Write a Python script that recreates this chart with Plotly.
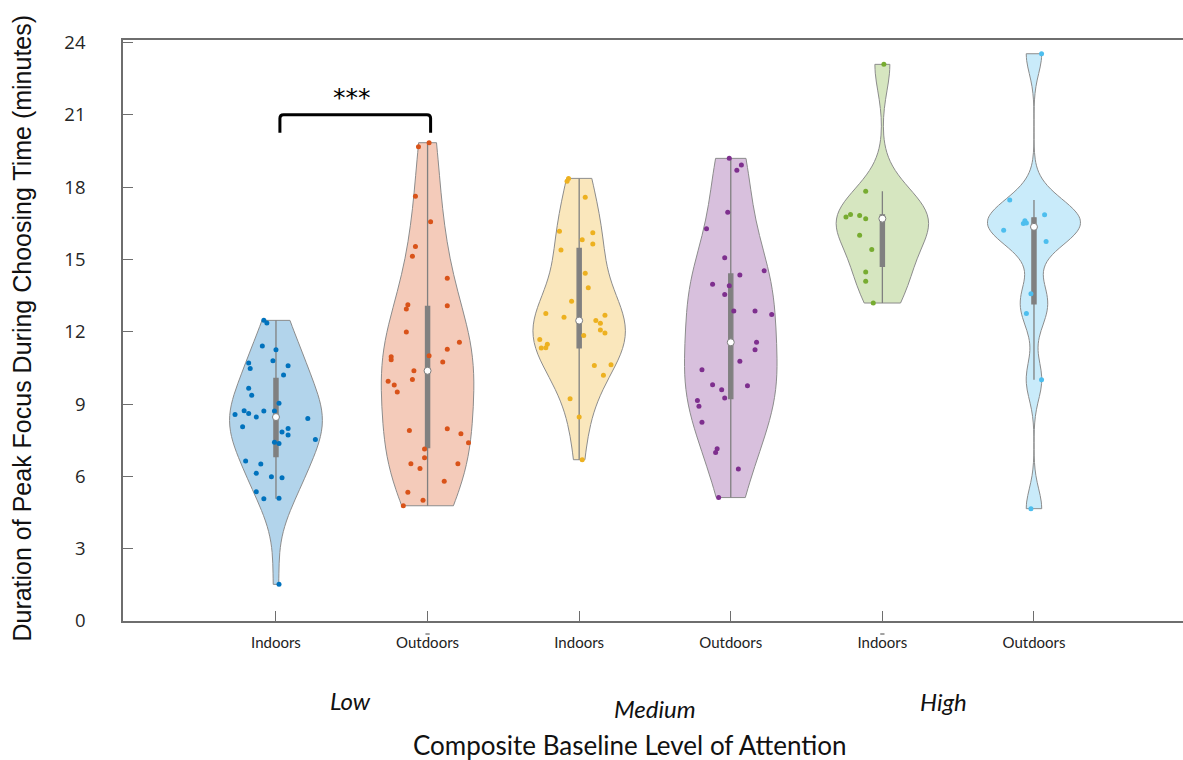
import numpy as np
import plotly.graph_objects as go

# ---- data: peak-focus duration (minutes) per attention level and setting ----
tick_labels = ["Indoors", "Outdoors", "Indoors", "Outdoors", "Indoors", "Outdoors"]
group_labels = ["Low", "Medium", "High"]

low_indoors = [12.47, 12.36, 11.41, 11.25, 10.80, 10.70, 10.47, 10.59, 10.20, 9.65,
               9.36, 9.03, 8.72, 8.61, 8.57, 8.71, 8.71, 8.46, 8.40, 8.06,
               7.99, 7.84, 7.72, 7.53, 7.36, 7.41, 6.64, 6.51, 6.13, 5.98,
               5.94, 5.36, 5.07, 5.09, 1.52]
low_indoors_jitter = [-0.08, -0.06, -0.09, 0.00, -0.02, -0.18, -0.17, 0.08, 0.05, -0.18,
                      -0.16, 0.02, -0.21, -0.18, -0.27, -0.08, -0.01, -0.13, 0.21, -0.22,
                      0.08, 0.04, 0.08, 0.26, 0.02, -0.01, -0.20, -0.10, -0.13, -0.03,
                      0.04, -0.13, -0.08, 0.02, 0.02]

low_outdoors = [19.84, 19.67, 17.62, 16.56, 15.53, 15.13, 14.22, 13.12, 12.94, 13.08,
                11.99, 11.56, 11.27, 10.96, 10.84, 11.00, 10.74, 10.38, 10.02, 9.95,
                9.79, 9.50, 7.90, 7.97, 7.77, 7.39, 7.13, 6.77, 6.52, 6.33,
                6.52, 5.80, 5.34, 5.01, 4.78]
low_outdoors_jitter = [0.01, -0.06, -0.08, 0.02, -0.08, -0.10, 0.13, -0.13, -0.14, 0.13,
                       -0.14, 0.21, 0.13, -0.24, -0.24, 0.01, 0.10, -0.09, -0.10, -0.26,
                       -0.22, -0.20, -0.12, 0.13, 0.22, 0.27, -0.02, -0.02, -0.11, -0.05,
                       0.20, 0.11, -0.13, -0.03, -0.16]

medium_indoors = [18.36, 18.24, 17.58, 16.17, 16.10, 15.81, 15.64, 15.39, 14.42, 13.82,
                  13.26, 12.76, 12.60, 12.68, 12.46, 12.35, 12.07, 11.95, 11.84, 11.68,
                  11.48, 11.32, 11.33, 10.60, 10.63, 10.19, 9.22, 8.46, 6.69]
medium_indoors_jitter = [-0.07, -0.08, 0.04, -0.13, 0.09, 0.02, 0.09, -0.12, 0.04, 0.06,
                         -0.05, -0.22, -0.10, 0.17, 0.11, 0.14, 0.14, 0.17, 0.03, -0.26,
                         -0.21, -0.25, -0.22, 0.10, 0.21, 0.16, -0.06, 0.00, 0.02]

medium_outdoors = [19.19, 18.92, 18.70, 16.96, 16.27, 15.07, 14.53, 14.35, 13.97, 13.91,
                   13.54, 12.86, 12.86, 12.71, 11.56, 11.25, 10.77, 10.42, 9.80, 9.76,
                   9.59, 9.25, 9.15, 8.91, 8.24, 7.14, 6.99, 6.31, 5.12]
medium_outdoors_jitter = [-0.01, 0.07, 0.04, -0.02, -0.16, -0.04, 0.22, 0.06, -0.12, -0.01,
                          -0.04, 0.02, 0.16, 0.27, 0.17, 0.16, 0.06, -0.19, -0.12, 0.11,
                          -0.06, -0.04, -0.22, -0.21, -0.19, -0.09, -0.10, 0.05, -0.08]

high_indoors = [23.09, 17.83, 16.86, 16.76, 16.82, 16.69, 16.00, 15.41, 14.48, 14.09, 13.19]
high_indoors_jitter = [0.01, -0.11, -0.21, -0.24, -0.15, -0.11, -0.15, -0.07, -0.11, -0.11, -0.06]

high_outdoors = [23.53, 17.46, 16.85, 16.60, 16.49, 16.51, 16.21, 15.74, 13.57, 12.75, 10.01, 4.66]
high_outdoors_jitter = [0.05, -0.16, 0.07, -0.06, -0.07, -0.05, -0.20, 0.08, -0.02, -0.05, 0.05, -0.02]

samples = [low_indoors, low_outdoors, medium_indoors, medium_outdoors, high_indoors, high_outdoors]
jitters = [low_indoors_jitter, low_outdoors_jitter, medium_indoors_jitter,
           medium_outdoors_jitter, high_indoors_jitter, high_outdoors_jitter]

# ---- styling ----
palette = [(0, 114, 189), (217, 83, 25), (237, 177, 32),
           (126, 47, 142), (119, 172, 48), (77, 190, 238)]
EDGE = "#8c8c8c"
BOX = "#808080"
AXIS = "#6e6e6e"
VIOLIN_WIDTH = 0.61


def kde_bandwidth(values):
    """Normal-reference bandwidth built on the median absolute deviation."""
    v = np.asarray(values, dtype=float)
    sig = np.median(np.abs(v - np.median(v))) / 0.6745
    return sig * (4.0 / (3.0 * len(v))) ** 0.2


fig = go.Figure()

for i, (vals, jit, rgb) in enumerate(zip(samples, jitters, palette)):
    pos = i + 1
    r, g, b = rgb
    fig.add_trace(go.Violin(
        x0=pos, y=vals, width=VIOLIN_WIDTH, spanmode="hard",
        bandwidth=kde_bandwidth(vals), scalemode="width",
        fillcolor=f"rgba({r},{g},{b},0.3)", line=dict(color=EDGE, width=1),
        points=False,
        box=dict(visible=True, width=0.045, fillcolor=BOX,
                 line=dict(color=BOX, width=1.3)),
        meanline=dict(visible=False), showlegend=False, hoverinfo="skip",
    ))
    fig.add_trace(go.Scatter(
        x=[pos + d for d in jit], y=vals, mode="markers",
        marker=dict(size=5, color=f"rgb({r},{g},{b})", line=dict(width=0)),
        showlegend=False, hoverinfo="y",
    ))
    fig.add_trace(go.Scatter(
        x=[pos], y=[float(np.median(vals))], mode="markers",
        marker=dict(size=7, color="white", line=dict(color=BOX, width=1)),
        showlegend=False, hoverinfo="y",
    ))

# significance bracket between the two low-attention groups
fig.add_shape(type="path",
              path="M 1.026,20.25 L 1.026,20.85 Q 1.026,21.0 1.05,21.0 "
                   "L 1.996,21.0 Q 2.02,21.0 2.02,20.85 L 2.02,20.25",
              line=dict(color="black", width=3), xref="x", yref="y")
fig.add_annotation(x=1.5, y=21.0, yshift=17, text="***", showarrow=False,
                   xanchor="center", yanchor="middle",
                   font=dict(family="DejaVu Sans", size=25, color="black"),
                   xref="x", yref="y")

# small dashes under two of the category ticks
for p in (2, 5):
    fig.add_shape(type="line", x0=p - 0.014, x1=p + 0.014, y0=-0.0224, y1=-0.0224,
                  xref="x", yref="paper", line=dict(color="#444", width=1))

# attention-level group labels
for lab, xp, yp in zip(group_labels, [0.215, 0.502, 0.774], [-0.136, -0.150, -0.138]):
    fig.add_annotation(x=xp, y=yp, xref="paper", yref="paper", text=f"<i>{lab}</i>",
                       xanchor="center", yanchor="middle", showarrow=False,
                       font=dict(family="Lato", size=24, color="#111"))

fig.add_annotation(x=0.478, y=-0.213, xref="paper", yref="paper",
                   text="Composite Baseline Level of Attention", showarrow=False,
                   xanchor="center", yanchor="middle",
                   font=dict(family="Lato", size=26, color="#111"))

fig.add_annotation(x=-0.0953, y=0.505, xref="paper", yref="paper", textangle=-90,
                   text="Duration of Peak Focus During Choosing Time (minutes)",
                   showarrow=False, xanchor="center", yanchor="middle",
                   font=dict(family="Liberation Sans", size=25, color="#111"))

fig.update_layout(
    width=1183, height=760,
    margin=dict(l=123, r=0, t=40, b=139),
    plot_bgcolor="white", paper_bgcolor="white",
    xaxis=dict(range=[-0.009, 6.983], tickmode="array", tickvals=[1, 2, 3, 4, 5, 6],
               ticktext=tick_labels, ticks="inside", ticklen=10, tickcolor=AXIS,
               tickwidth=1.3, showline=True, linecolor=AXIS, linewidth=1.6, mirror=True,
               showgrid=False, zeroline=False, ticklabelstandoff=7,
               tickfont=dict(family="Lato", size=15, color="#222")),
    yaxis=dict(range=[0, 24.1], tickmode="array", tickvals=list(range(0, 25, 3)),
               ticks="inside", ticklen=10, tickcolor=AXIS, tickwidth=1.3,
               showline=True, linecolor=AXIS, linewidth=1.6,
               showgrid=False, zeroline=False, ticklabelstandoff=32,
               tickfont=dict(family="Open Sans", size=18.5, color="#262626")),
)

fig.write_html("out.html")
